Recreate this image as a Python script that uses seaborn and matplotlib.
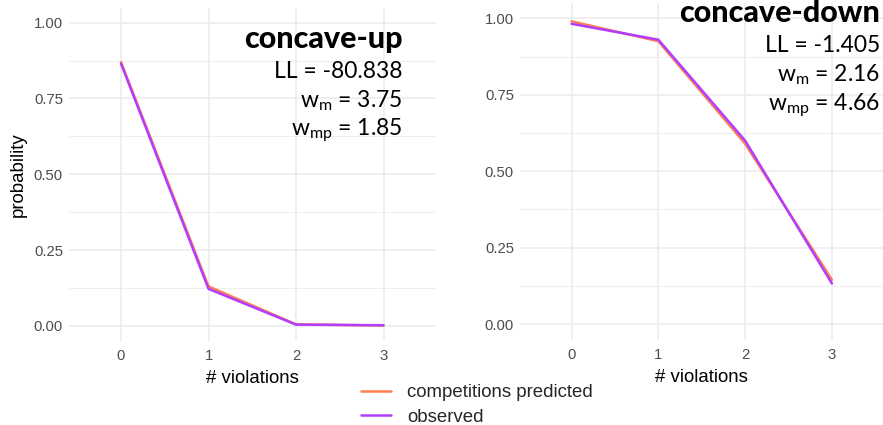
import numpy as np
import pandas as pd
import matplotlib
matplotlib.use("Agg")
import matplotlib.pyplot as plt
import seaborn as sns
from matplotlib.ticker import MultipleLocator, FixedLocator

# number of violations on the x axis
violations = [0, 1, 2, 3]

# concave-up condition
up_predicted = [0.870, 0.130, 0.005, 0.001]
up_observed = [0.865, 0.122, 0.004, 0.002]

# concave-down condition
down_predicted = [0.990, 0.925, 0.590, 0.145]
down_observed = [0.982, 0.930, 0.600, 0.133]

series_names = ["competitions predicted", "observed"]
series_colors = ["#FF7F50", "#B23DFF"]

panel_titles = ["concave-up", "concave-down"]
panel_ll = ["-80.838", "-1.405"]
panel_wm = ["3.75", "2.16"]
panel_wmp = ["1.85", "4.66"]

W, H = 883, 425

sns.set_theme(style="whitegrid")
plt.rcParams["font.family"] = ["Liberation Sans", "DejaVu Sans"]
plt.rcParams["mathtext.fontset"] = "custom"
plt.rcParams["mathtext.rm"] = "Lato"
plt.rcParams["mathtext.it"] = "Lato"


def long_frame(pred, obs):
    return pd.DataFrame({
        "violations": violations * 2,
        "probability": list(pred) + list(obs),
        "series": [series_names[0]] * len(violations) + [series_names[1]] * len(violations),
    })


fig = plt.figure(figsize=(W / 100, H / 100), dpi=100)


def px_axes(x0, y0, x1, y1):
    return fig.add_axes([x0 / W, 1 - y1 / H, (x1 - x0) / W, (y1 - y0) / H])


ax_left = px_axes(68.5, 7.5, 436, 341)
ax_right = px_axes(519.5, 3, 884, 339.5)

frames = [long_frame(up_predicted, up_observed), long_frame(down_predicted, down_observed)]

for i, (ax, df) in enumerate(zip([ax_left, ax_right], frames)):
    sns.lineplot(data=df, x="violations", y="probability", hue="series",
                 hue_order=series_names, palette=series_colors,
                 linewidth=1.8, ax=ax, legend=False, sort=False)
    ax.set_xlim(-0.6, 3.6)
    ax.set_ylim(-0.05, 1.05)
    ax.xaxis.set_major_locator(FixedLocator(violations))
    ax.yaxis.set_major_locator(MultipleLocator(0.25))
    ax.yaxis.set_minor_locator(MultipleLocator(0.125))
    ax.set_yticklabels([f"{v:.2f}" for v in ax.get_yticks()])
    ax.set_facecolor("white")
    for s in ax.spines.values():
        s.set_visible(False)
    ax.grid(which="major", color="#EBEBEB", linewidth=1.1)
    ax.grid(which="minor", axis="y", color="#EBEBEB", linewidth=0.6)
    ax.tick_params(axis="both", which="both", length=0, labelsize=10.7,
                   labelcolor="#4D4D4D", pad=4)
    ax.tick_params(axis="x", pad=6)
    ax.set_xlabel("# violations", fontsize=13.4, color="black", labelpad=5)
    ax.set_ylabel("probability" if i == 0 else "", fontsize=13.4, color="black", labelpad=5)

# Panel annotations
anno = [
    (403, [48, 78, 107, 135]),
    (880, [22, 52, 81, 110]),
]
for i, (xr, ys) in enumerate(anno):
    fig.text(xr / W, 1 - ys[0] / H, panel_titles[i], ha="right", va="baseline",
             fontsize=22, fontweight="black", family=["Lato", "DejaVu Sans"], color="black")
    lines = [f"LL = {panel_ll[i]}",
             r"w$_{\mathrm{m}}$ = " + panel_wm[i],
             r"w$_{\mathrm{mp}}$ = " + panel_wmp[i]]
    for txt, y in zip(lines, ys[1:]):
        fig.text(xr / W, 1 - y / H, txt, ha="right", va="baseline",
                 fontsize=16.5, fontweight="normal", family=["Lato", "DejaVu Sans"], color="black")

handles = [plt.Line2D([], [], color=c, linewidth=1.8) for c in series_colors]
fig.legend(handles, series_names, loc="upper left",
           bbox_to_anchor=(361 / W, 1 - 384 / H), frameon=False,
           fontsize=13.4, handlelength=1.6, handletextpad=0.86,
           labelspacing=0.4, borderpad=0, borderaxespad=0)

fig.savefig("out.png", dpi=100)
